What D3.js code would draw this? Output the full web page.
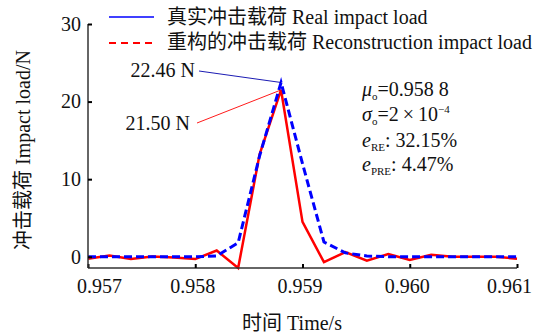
<!DOCTYPE html>
<html>
<head>
<meta charset="utf-8">
<script src="https://cdn.jsdelivr.net/npm/d3@7"></script>
<style>
  body { margin: 0; background: #fff; }
  svg text { font-family: "Liberation Serif", "Times New Roman", "Noto Sans CJK SC", serif; fill: #111; }
</style>
</head>
<body>
<div id="chart"></div>
<script>
// time samples (s)
const times = [0.9570, 0.9572, 0.9574, 0.9576, 0.9578, 0.9580, 0.9582, 0.9584, 0.9586, 0.9588,
  0.9590, 0.9592, 0.9594, 0.9596, 0.9598, 0.9600, 0.9602, 0.9604, 0.9606, 0.9608, 0.9610];
// real impact load (N) - blue dashed in plot
const realLoad = [0, 0, 0, 0, 0, 0, 0.1, 1.8, 13.0, 22.46,
  12.0, 1.9, 0.5, 0.1, 0, 0, 0, 0, 0, 0, 0];
// reconstructed impact load (N) - red solid in plot
const reconLoad = [-0.25, 0.17, -0.3, 0.04, -0.1, -0.3, 0.8, -1.45, 13.2, 21.50,
  4.5, -0.7, 0.6, -0.5, 0.35, -0.4, 0.25, 0, 0, 0, -0.25];

const xTicks = [0.957, 0.958, 0.959, 0.960, 0.961];
const yTicks = [0, 10, 20, 30];
const legendLabels = ['真实冲击载荷 Real impact load', '重构的冲击载荷 Reconstruction impact load'];
const peakLabels = ['22.46 N', '21.50 N'];

const width = 541;
const height = 333;
const blue = '#0000ff';
const red = '#ff0000';

const svg = d3.select('#chart').append('svg')
  .attr('width', width)
  .attr('height', height);

/* Scales */
const x = d3.scaleLinear().domain([0.957, 0.961]).range([88, 517]);
const y = d3.scaleLinear().domain([-1.45, 30]).range([268, 24]);

/* Lines */
const line = d3.line()
  .x((d, i) => x(times[i]))
  .y(d => y(d));

svg.append('path')
  .attr('d', line(reconLoad))
  .style('fill', 'none')
  .style('stroke', red)
  .style('stroke-width', 2.5)
  .style('stroke-linejoin', 'miter');

svg.append('path')
  .attr('d', line(realLoad))
  .style('fill', 'none')
  .style('stroke', blue)
  .style('stroke-width', 3)
  .style('stroke-dasharray', '8,4');

/* Axes */
const xAxis = d3.axisBottom(x).tickValues(xTicks).tickSize(-4).tickPadding(11)
  .tickFormat(d3.format('.3f'));
const gx = svg.append('g')
  .attr('transform', `translate(0, ${y.range()[0]})`)
  .call(xAxis);
gx.select('.domain').attr('d', `M${x.range()[0]},0H${x.range()[1]}`)
  .style('stroke', '#333').style('stroke-width', 1.5);
gx.selectAll('.tick line').style('stroke', '#000').style('stroke-width', 2);
gx.selectAll('.tick text')
  .style('font-size', '20px')
  .attr('dx', (d, i) => i == 0 ? 11 : (i == xTicks.length - 1 ? -8 : -3));

const yAxis = d3.axisLeft(y).tickValues(yTicks).tickSize(-4).tickPadding(7);
const gy = svg.append('g')
  .attr('transform', `translate(${x.range()[0]}, 0)`)
  .call(yAxis);
gy.select('.domain').attr('d', `M0,${y(30)}V${y.range()[0]}`)
  .style('stroke', '#333').style('stroke-width', 1.5);
gy.selectAll('.tick line').style('stroke', '#000').style('stroke-width', 2);
gy.selectAll('.tick text').style('font-size', '20px');

/* Axis titles */
svg.append('text')
  .attr('x', 292)
  .attr('y', 330)
  .attr('text-anchor', 'middle')
  .style('font-size', '20px')
  .text('时间 Time/s');

svg.append('text')
  .attr('transform', 'translate(30, 150) rotate(-90)')
  .attr('text-anchor', 'middle')
  .style('font-size', '20px')
  .text('冲击载荷 Impact load/N');

/* Legend */
const legend = svg.append('g');
legend.append('line')
  .attr('x1', 109).attr('x2', 154).attr('y1', 17).attr('y2', 17)
  .style('stroke', blue).style('stroke-width', 1.5);
legend.append('line')
  .attr('x1', 109).attr('x2', 154).attr('y1', 43).attr('y2', 43)
  .style('stroke', red).style('stroke-width', 2).style('stroke-dasharray', '7,5');
legend.selectAll('.lbl')
  .data(legendLabels)
  .enter()
  .append('text')
  .attr('x', 167)
  .attr('y', (d, i) => 24 + i * 25)
  .style('font-size', '20px')
  .text(d => d);

/* Peak annotations */
const peakIdx = 9;
svg.append('line')
  .attr('x1', 199).attr('y1', 71)
  .attr('x2', x(times[peakIdx])).attr('y2', y(realLoad[peakIdx]))
  .style('stroke', '#0000aa').style('stroke-width', 0.9);
svg.append('line')
  .attr('x1', 197).attr('y1', 123)
  .attr('x2', x(times[peakIdx])).attr('y2', y(reconLoad[peakIdx]))
  .style('stroke', red).style('stroke-width', 0.9);
svg.append('text')
  .attr('x', 195).attr('y', 77)
  .attr('text-anchor', 'end')
  .style('font-size', '20px')
  .text(peakLabels[0]);
svg.append('text')
  .attr('x', 190).attr('y', 130)
  .attr('text-anchor', 'end')
  .style('font-size', '20px')
  .text(peakLabels[1]);

/* Statistics block */
const stats = svg.append('g').style('font-size', '20px');
function subRow(yPos, sym, sub, rest, sup) {
  const t = stats.append('text').attr('x', 362).attr('y', yPos);
  t.append('tspan').style('font-style', 'italic').text(sym);
  t.append('tspan').attr('dy', 4).style('font-size', '11px').text(sub);
  t.append('tspan').attr('dy', -4).text(rest);
  if (sup) {
    t.append('tspan').attr('dy', -8).style('font-size', '11px').text(sup);
  }
}
subRow(96, 'μ', 'o', '=0.958 8');
subRow(121, 'σ', 'o', '=2\u2009×\u200910', '−4');
subRow(147, 'e', 'RE', ': 32.15%');
subRow(171, 'e', 'PRE', ': 4.47%');
</script>
</body>
</html>
